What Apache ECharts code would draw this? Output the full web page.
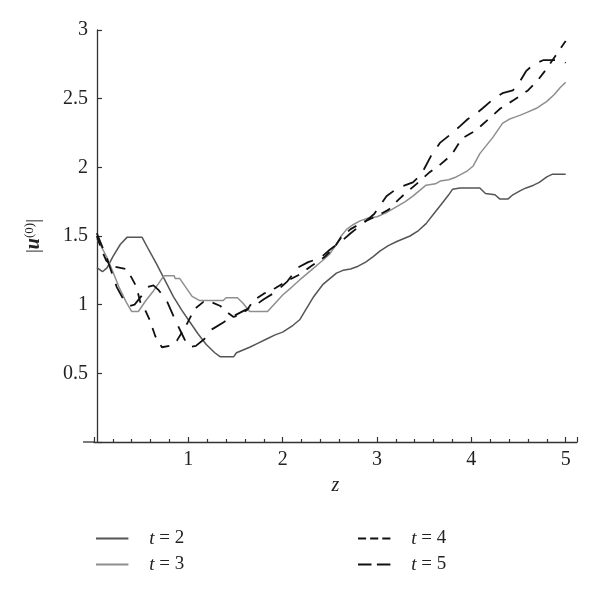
<!DOCTYPE html>
<html>
<head>
<meta charset="utf-8">
<script src="https://cdn.jsdelivr.net/npm/echarts@6/dist/echarts.min.js"></script>
<style>html,body{margin:0;padding:0;background:#fff}#c{width:600px;height:595px}</style>
</head>
<body>
<div id="c"></div>
<script>
// ---- data (z, |u^(0)|) ----
const seriesNames = ['t = 2', 't = 3', 't = 4', 't = 5'];
const xTicks = [1, 2, 3, 4, 5];
const yTicks = [0.5, 1, 1.5, 2, 2.5, 3];

const t2Data = [[0.03,1.27],[0.09,1.24],[0.14,1.27],[0.2,1.35],[0.28,1.44],[0.35,1.49],[0.51,1.49],[0.58,1.40],[0.66,1.30],[0.75,1.18],[0.84,1.06],[0.93,0.96],[1.02,0.87],[1.10,0.79],[1.19,0.71],[1.28,0.65],[1.34,0.62],[1.48,0.62],[1.51,0.65],[1.58,0.67],[1.65,0.69],[1.74,0.72],[1.83,0.75],[1.92,0.78],[2.0,0.80],[2.11,0.85],[2.18,0.89],[2.25,0.97],[2.33,1.06],[2.43,1.15],[2.5,1.19],[2.57,1.23],[2.64,1.25],[2.72,1.26],[2.8,1.28],[2.88,1.31],[2.96,1.35],[3.03,1.39],[3.12,1.43],[3.21,1.46],[3.28,1.48],[3.35,1.50],[3.44,1.54],[3.52,1.59],[3.6,1.66],[3.68,1.73],[3.76,1.80],[3.80,1.84],[3.88,1.85],[4.09,1.85],[4.15,1.81],[4.25,1.80],[4.30,1.77],[4.39,1.77],[4.44,1.80],[4.52,1.83],[4.58,1.85],[4.66,1.87],[4.72,1.89],[4.8,1.93],[4.86,1.95],[5.0,1.95]];

const t3Data = [[0.03,1.48],[0.08,1.42],[0.14,1.34],[0.2,1.24],[0.27,1.12],[0.34,1.02],[0.40,0.95],[0.47,0.95],[0.55,1.03],[0.63,1.10],[0.70,1.17],[0.74,1.21],[0.85,1.21],[0.86,1.19],[0.91,1.19],[0.97,1.13],[1.04,1.06],[1.12,1.03],[1.37,1.03],[1.40,1.05],[1.52,1.05],[1.58,1.01],[1.65,0.95],[1.84,0.95],[1.92,1.01],[2.0,1.07],[2.1,1.13],[2.18,1.18],[2.3,1.25],[2.42,1.32],[2.5,1.37],[2.56,1.43],[2.62,1.50],[2.68,1.55],[2.74,1.58],[2.82,1.61],[2.9,1.63],[3.0,1.64],[3.1,1.67],[3.2,1.71],[3.3,1.75],[3.38,1.79],[3.45,1.83],[3.52,1.87],[3.62,1.88],[3.67,1.90],[3.76,1.91],[3.84,1.93],[3.95,1.97],[4.02,2.01],[4.09,2.10],[4.16,2.16],[4.23,2.22],[4.33,2.32],[4.40,2.35],[4.44,2.36],[4.52,2.38],[4.59,2.40],[4.69,2.43],[4.80,2.48],[4.88,2.53],[4.94,2.58],[5.0,2.62]];

const t4Data = [[0.03,1.50],[0.08,1.40],[0.13,1.32],[0.19,1.28],[0.34,1.26],[0.38,1.22],[0.45,1.13],[0.49,1.02],[0.55,0.95],[0.59,0.89],[0.65,0.77],[0.72,0.69],[0.8,0.70],[0.88,0.74],[0.97,0.84],[1.03,0.92],[1.07,0.97],[1.16,1.02],[1.24,1.02],[1.34,0.99],[1.42,0.94],[1.48,0.91],[1.55,0.93],[1.62,0.96],[1.69,1.03],[1.8,1.08],[1.92,1.12],[2.04,1.17],[2.18,1.22],[2.3,1.28],[2.45,1.35],[2.55,1.42],[2.62,1.49],[2.72,1.55],[2.85,1.60],[2.98,1.64],[3.12,1.69],[3.22,1.76],[3.3,1.81],[3.42,1.88],[3.55,1.96],[3.67,2.02],[3.79,2.09],[3.9,2.21],[4.05,2.27],[4.18,2.35],[4.31,2.43],[4.45,2.49],[4.6,2.56],[4.7,2.63],[4.79,2.71],[4.9,2.82],[5.0,2.92]];

const t5Data = [[0.03,1.52],[0.13,1.35],[0.24,1.13],[0.31,1.04],[0.38,0.99],[0.43,1.0],[0.5,1.06],[0.57,1.13],[0.63,1.14],[0.68,1.11],[0.77,1.03],[0.86,0.89],[0.93,0.79],[1.0,0.69],[1.08,0.70],[1.17,0.75],[1.25,0.82],[1.37,0.87],[1.46,0.91],[1.6,0.96],[1.7,0.99],[1.8,1.04],[1.92,1.09],[2.05,1.17],[2.16,1.27],[2.27,1.31],[2.4,1.34],[2.5,1.40],[2.62,1.46],[2.72,1.52],[2.85,1.59],[2.97,1.66],[3.1,1.79],[3.22,1.85],[3.38,1.89],[3.47,1.95],[3.57,2.08],[3.67,2.18],[3.78,2.24],[3.88,2.30],[3.96,2.35],[4.05,2.39],[4.12,2.43],[4.22,2.49],[4.33,2.54],[4.44,2.56],[4.51,2.62],[4.58,2.70],[4.66,2.75],[4.76,2.78],[4.97,2.78],[5.0,2.76]];

const allData = [t2Data, t3Data, t4Data, t5Data];
const colors = ['#555555', '#8e8e8e', '#111111', '#111111'];
const widths = [1.5, 1.5, 1.8, 1.8];
const dashes = ['solid', 'solid', [10, 9], [16, 11]];
const legendIcons = [
  'path://M0,0H36V2H0Z',
  'path://M0,0H36V2H0Z',
  'path://M0,0H9V2H0Z M13.5,0H22.5V2H13.5Z M27,0H36V2H27Z',
  'path://M0,0H15V2H0Z M21,0H36V2H21Z'
];

const FONT = 'Liberation Serif';
const chart = echarts.init(document.getElementById('c'), null, {renderer: 'canvas'});

const legendRich = {i: {fontStyle: 'italic', fontFamily: FONT, fontSize: 19, color: '#222'}, n: {fontFamily: FONT, fontSize: 19, color: '#222'}};
const legendFmt = name => { const p = name.split(' '); return '{i|' + p[0] + '}{n| ' + p.slice(1).join(' ') + '}'; };

function makeLegend(idx, left) {
  return {
    data: idx.map(i => ({name: seriesNames[i], icon: legendIcons[i], itemStyle: {color: colors[i]}})),
    left: left, top: 529, orient: 'vertical', padding: 0,
    itemWidth: 36, itemHeight: 1.8, itemGap: 7,
    formatter: legendFmt,
    textStyle: {fontFamily: FONT, fontSize: 19, color: '#222', rich: legendRich, padding: [0, 0, 0, 14]},
    selectedMode: false
  };
}

chart.setOption({
  animation: false,
  backgroundColor: '#fff',
  grid: {left: 94, right: 23, top: 30, bottom: 153, containLabel: false},
  xAxis: {
    type: 'value', min: 0, max: 5.12, interval: 1,
    name: 'z', nameLocation: 'middle', nameGap: 34,
    nameTextStyle: {fontFamily: FONT, fontStyle: 'italic', fontSize: 20, color: '#222'},
    axisLine: {show: true, lineStyle: {color: '#333', width: 1.3}},
    axisTick: {show: true, inside: true, length: 5, lineStyle: {color: '#333', width: 1.2}},
    minorTick: {show: true, splitNumber: 5, length: 3, lineStyle: {color: '#333', width: 1.2}},
    axisLabel: {fontFamily: FONT, fontSize: 20, color: '#222', margin: 8,
      formatter: v => (xTicks.indexOf(v) >= 0 ? String(v) : '')},
    splitLine: {show: false}, minorSplitLine: {show: false}
  },
  yAxis: {
    type: 'value', min: 0, max: 3, interval: 0.5, offset: -3,
    name: '{a||}{u|u}{s|(0)}{a||}', nameLocation: 'middle', nameGap: 52, nameRotate: 90,
    nameTextStyle: {fontFamily: FONT, fontSize: 19, color: '#222',
      rich: {a: {fontFamily: FONT, fontSize: 19, color: '#222'},
             u: {fontFamily: FONT, fontSize: 20, fontStyle: 'italic', fontWeight: 'bold', color: '#222'},
             s: {fontFamily: FONT, fontSize: 13, color: '#222', padding: [0, 0, 9, 0]}}},
    axisLine: {show: true, lineStyle: {color: '#333', width: 1.3}},
    axisTick: {show: true, inside: true, length: 5, lineStyle: {color: '#333', width: 1.2}},
    axisLabel: {fontFamily: FONT, fontSize: 20, color: '#222', margin: 9,
      formatter: v => (yTicks.indexOf(v) >= 0 ? String(v) : '')},
    splitLine: {show: false}
  },
  legend: [makeLegend([0, 1], 96), makeLegend([2, 3], 358)],
  graphic: [{type: 'line', shape: {x1: 83, y1: 442, x2: 95, y2: 442}, style: {stroke: '#333', lineWidth: 1.3}, silent: true}],
  series: seriesNames.map((n, i) => ({
    name: n, type: 'line', data: allData[i], symbol: 'none', smooth: false,
    lineStyle: {color: colors[i], width: widths[i], type: dashes[i]},
    itemStyle: {color: colors[i]}, z: i < 2 ? 2 : 3
  }))
});
</script>
</body>
</html>
